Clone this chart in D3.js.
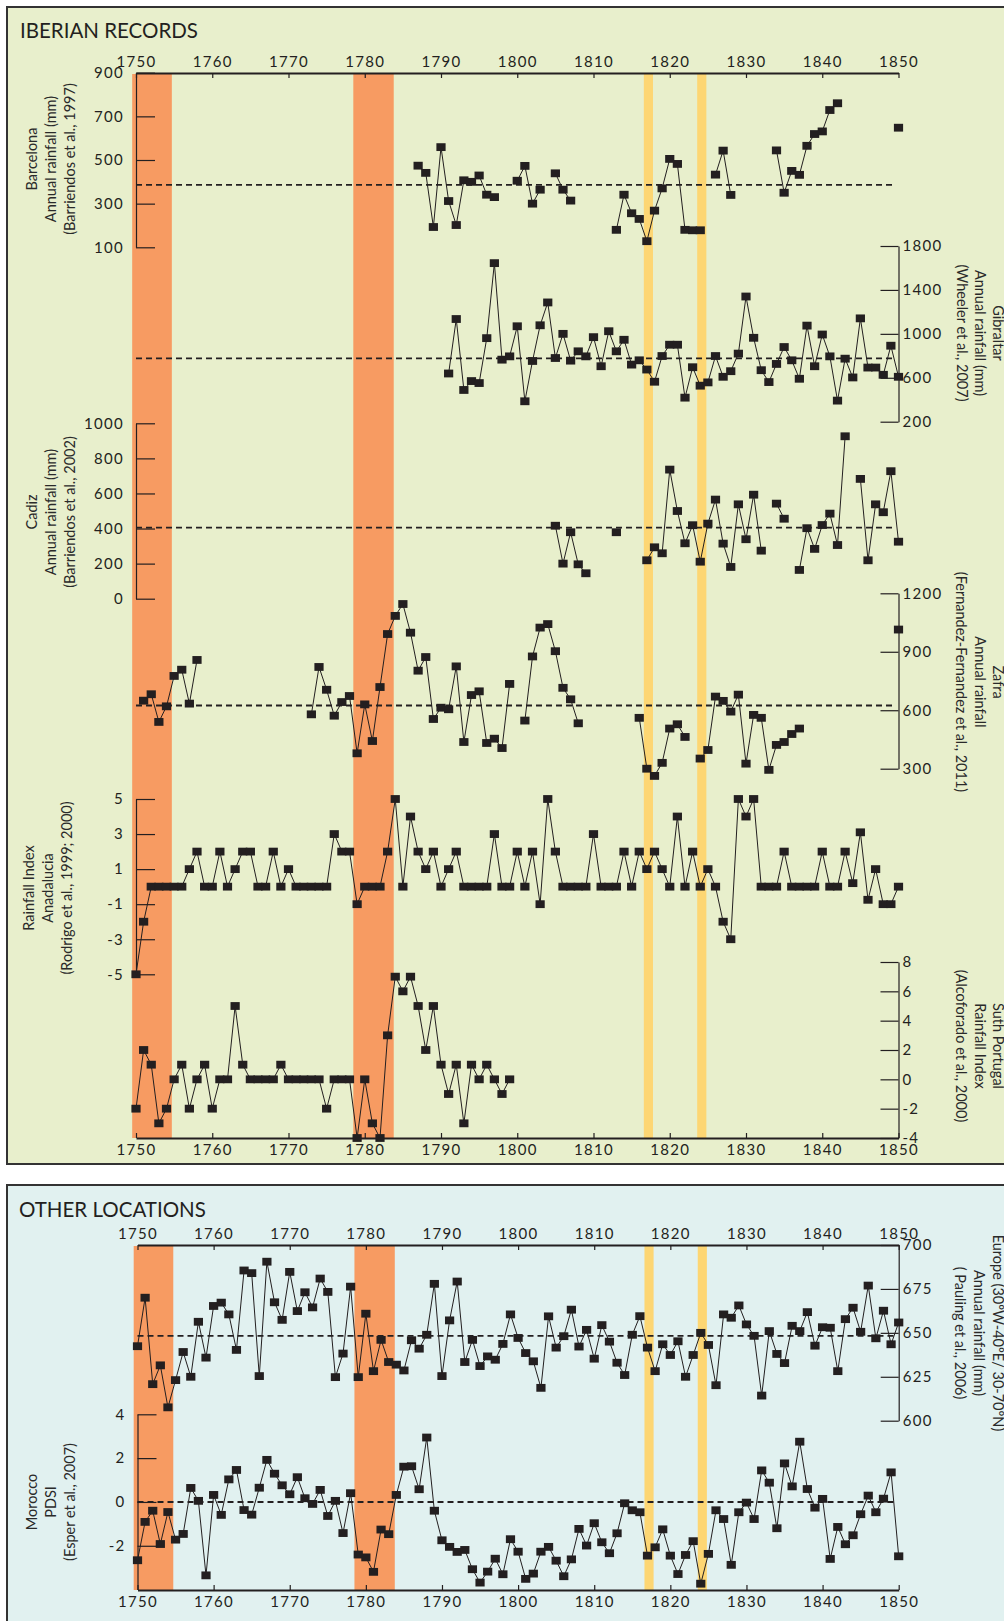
<!DOCTYPE html>
<meta charset="utf-8">
<style>

body {
  margin: 0;
  background: #fff;
}

svg {
  display: block;
  font-family: Lato, "Open Sans", sans-serif;
}

.axis path,
.axis line {
  fill: none;
  stroke: #231f20;
  stroke-width: 1.2px;
}

.xaxis path {
  stroke-width: 2px;
}

.axis .tick text {
  font-size: 15px;
  letter-spacing: 1.3px;
  fill: #231f20;
  font-family: Lato, "Open Sans", sans-serif;
}

.label {
  font-size: 14.5px;
  fill: #2a2a2a;
}

.title {
  font-size: 20.5px;
  fill: #231f20;
}

.series {
  fill: none;
  stroke: #231f20;
  stroke-width: 1px;
}

.mean {
  stroke: #231f20;
  stroke-width: 1.9px;
  stroke-dasharray: 6,4;
}

</style>
<body>
<script src="https://cdn.jsdelivr.net/npm/d3@7"></script>
<script>

// Series data, one value per year from the start year, null = no data
var barcelonaStart = 1787;
var barcelonaRain = [474, 441, 193, 559, 312, 202, 407, 400, 429, 341, 330, null, null,
  405, 473, 300, 364, null, 439, 364, 314, null, null, null, null, null,
  180, 341, 256, 230, 128, 268, 370, 505, 482, 180, 178, 178, null,
  433, 543, 340, null, null, null, null, null,
  544, 350, 450, 432, 565, 619, 631, 729, 760, null, null, null, null, null, null, null, 648];
var barcelonaMean = 386;

var gibraltarStart = 1791;
var gibraltarRain = [639, 1135, 489, 570, 552, 961, 1644, 765, 795,
  1069, 386, 753, 1078, 1286, 780, 1000, 756, 841, 795,
  970, 705, 1024, 841, 946, 720, 759, 675, 564, 798,
  901, 901, 419, 696, 528, 558, 798, 609, 660, 820,
  1340, 964, 669, 561, 726, 880, 759, 591, 1075, 705,
  994, 795, 392, 774, 603, 1141, 693, 693, 627, 892, 609];
var gibraltarMean = 777;

var cadizStart = 1805;
var cadizRain = [416, 200, 379, 196, 145, null, null, null, 379, null, null, null,
  219, 293, 259, 736, 500, 316, 419, 211, 428, 565, 314, 181, 538, 339, 593, 274, null,
  542, 456, null, 164, 402, 284, 420, 485, 306, 926, null,
  683, 219, 538, 493, 727, 325];
var cadizMean = 405;

var zafraStart = 1751;
var zafraRain = [649, 682, 540, 620, 776, 808, 634, 858,
  null, null, null, null, null, null, null, null, null, null, null, null, null, null,
  579, 822, 705, 572, 642, 673, 379, 630, 442, 719, 991, 1084, 1145, 998, 803, 873, 555,
  613, 605, 825, 437, 678, 697, 432, 454, 406, 735, null,
  547, 876, 1024, 1042, 903, 715, 656, 533,
  null, null, null, null, null, null, null,
  561, 300, 263, 330, 506, 528, 463, null, 352, 396, 670, 648, 593, 680,
  326, 576, 561, 294, 422, 437, 478, 506,
  null, null, null, null, null, null, null, null, null, null, null, null, 1014];
var zafraMean = 624;

var andaluciaStart = 1750;
var andaluciaIndex = [-5, -2, 0, 0, 0, 0, 0, 1, 2, 0,
  0, 2, 0, 1, 2, 2, 0, 0, 2, 0,
  1, 0, 0, 0, 0, 0, 3, 2, 2, -1,
  0, 0, 0, 2, 5, 0, 4, 2, 1, 2,
  0, 1, 2, 0, 0, 0, 0, 3, 0, 0,
  2, 0, 2, -1, 5, 2, 0, 0, 0, 0,
  3, 0, 0, 0, 2, 0, 2, 1, 2, 1,
  0, 4, 0, 2, 0, 1, 0, -2, -3, 5,
  4, 5, 0, 0, 0, 2, 0, 0, 0, 0,
  2, 0, 0, 2, 0.2, 3.1, -0.75, 1, -1, -1,
  0];

var portugalStart = 1750;
var portugalIndex = [-2, 2, 1, -3, -2, 0, 1, -2, 0, 1,
  -2, 0, 0, 5, 1, 0, 0, 0, 0, 1,
  0, 0, 0, 0, 0, -2, 0, 0, 0, -4,
  0, -3, -4, 3, 7, 6, 7, 5, 2, 5,
  1, -1, 1, -3, 1, 0, 1, 0, -1, 0];

var europeStart = 1750;
var europeRain = [642.4, 670.0, 620.8, 631.5, 607.6, 623.1, 639.1, 625.0, 656.3, 635.9,
  665.3, 667.2, 660.5, 640.3, 685.5, 684.0, 625.4, 690.5, 667.4, 657.4,
  684.7, 662.4, 673.1, 664.5, 680.9, 673.3, 624.8, 638.2, 676.3, 624.8,
  660.9, 628.2, 646.0, 633.4, 631.9, 628.6, 645.8, 641.0, 648.9, 677.9,
  625.4, 657.1, 679.2, 633.4, 646.0, 631.1, 636.6, 634.7, 643.7, 660.5,
  647.1, 638.5, 633.8, 618.7, 659.4, 641.6, 648.1, 663.2, 642.2, 651.7,
  635.3, 654.4, 645.0, 633.0, 626.0, 648.9, 659.5, 641.6, 628.2, 643.5,
  637.4, 645.2, 625.0, 637.4, 650.0, 643.1, 620.2, 660.5, 658.6, 665.6,
  654.8, 648.3, 614.3, 651.0, 638.0, 632.8, 654.0, 651.0, 661.8, 642.7,
  653.2, 652.9, 628.2, 657.8, 664.3, 650.6, 676.9, 646.9, 662.6, 643.5,
  655.9];
var europeMean = 648.3;

var moroccoStart = 1750;
var moroccoPdsi = [-2.66, -0.91, -0.40, -1.92, -0.46, -1.72, -1.46, 0.64, 0.05, -3.35,
  0.32, -0.59, 1.03, 1.46, -0.37, -0.58, 0.65, 1.92, 1.29, 0.76,
  0.35, 1.13, 0.17, -0.09, 0.55, -0.64, 0.05, -1.42, 0.40, -2.40,
  -2.53, -3.19, -1.26, -1.47, 0.32, 1.61, 1.63, 0.58, 2.94, -0.40,
  -1.75, -2.05, -2.28, -2.19, -3.07, -3.68, -3.18, -2.59, -3.30, -1.70,
  -2.27, -3.51, -3.27, -2.27, -2.05, -2.68, -3.39, -2.62, -1.23, -1.99,
  -0.97, -1.84, -2.34, -1.43, -0.06, -0.38, -0.47, -2.45, -2.07, -1.25,
  -2.45, -3.29, -2.42, -1.79, -3.73, -2.37, -0.38, -0.78, -2.87, -0.47,
  -0.03, -0.78, 1.44, 0.88, -1.20, 1.76, 0.71, 2.75, 0.59, -0.26,
  0.14, -2.60, -1.14, -1.93, -1.52, -0.56, 0.29, -0.47, 0.15, 1.35,
  -2.48];
var moroccoMean = 0;

// Highlighted periods (years)
var droughtBands = [[1749.5, 1754.7], [1778.5, 1783.8]];
var eventBands = [[1816.6, 1817.8], [1823.6, 1824.8]];

var yearTicks = d3.range(1750, 1851, 10);

var svg = d3.select("body").append("svg")
    .attr("width", 1004)
    .attr("height", 1621);

// Panels
svg.append("rect").attr("x", 7).attr("y", 7).attr("width", 1010).attr("height", 1157)
    .attr("fill", "#e8efcc").attr("stroke", "#333").attr("stroke-width", 2);
svg.append("rect").attr("x", 7).attr("y", 1185).attr("width", 1010).attr("height", 500)
    .attr("fill", "#e1f1f0").attr("stroke", "#333").attr("stroke-width", 2);

svg.append("text").attr("class", "title").attr("x", 20).attr("y", 38).text("IBERIAN RECORDS");
svg.append("text").attr("class", "title").attr("x", 19).attr("y", 1217).text("OTHER LOCATIONS");

// x scales for the two panels
var xTop = d3.scaleLinear().domain([1750, 1850]).range([136, 898.5]);
var xBot = d3.scaleLinear().domain([1750, 1850]).range([137.5, 898.7]);

var topPanel = {x: xTop, y0: 73, y1: 1138};
var botPanel = {x: xBot, y0: 1245, y1: 1590};

// y scales
var yBarcelona = d3.scaleLinear().domain([100, 900]).range([247.3, 72.7]);
var yGibraltar = d3.scaleLinear().domain([200, 1800]).range([421.7, 246]);
var yCadiz = d3.scaleLinear().domain([0, 1000]).range([598.7, 423.3]);
var yZafra = d3.scaleLinear().domain([300, 1200]).range([768.7, 593.3]);
var yAndalucia = d3.scaleLinear().domain([-5, 5]).range([974.3, 799]);
var yPortugal = d3.scaleLinear().domain([-4, 8]).range([1138, 962]);
var yEurope = d3.scaleLinear().domain([600, 700]).range([1420.7, 1245]);
var yMorocco = d3.scaleLinear().domain([-4, 4]).range([1589.6, 1414.3]);

// Bands
function drawBands(p) {
  svg.selectAll(null).data(droughtBands).enter().append("rect")
      .attr("x", function(d) { return p.x(d[0]); })
      .attr("width", function(d) { return p.x(d[1]) - p.x(d[0]); })
      .attr("y", p.y0 + 1).attr("height", p.y1 - p.y0 - 1)
      .attr("fill", "#f79b62");
  svg.selectAll(null).data(eventBands).enter().append("rect")
      .attr("x", function(d) { return p.x(d[0]); })
      .attr("width", function(d) { return p.x(d[1]) - p.x(d[0]); })
      .attr("y", p.y0 + 1).attr("height", p.y1 - p.y0 - 1)
      .attr("fill", "#fdd673");
}
drawBands(topPanel);
drawBands(botPanel);

function drawMean(x, y, value) {
  svg.append("line").attr("class", "mean")
      .attr("x1", x(1750)).attr("x2", x(1849.6))
      .attr("y1", y(value)).attr("y2", y(value));
}

function drawSeries(x, y, start, values) {
  var pts = values.map(function(v, i) { return {year: start + i, value: v}; });
  var line = d3.line()
      .defined(function(d) { return d.value != null; })
      .x(function(d) { return x(d.year); })
      .y(function(d) { return y(d.value); });
  svg.append("path").attr("class", "series").attr("d", line(pts));
  svg.selectAll(null).data(pts.filter(function(d) { return d.value != null; }))
    .enter().append("rect")
      .attr("x", function(d) { return x(d.year) - 4.6; })
      .attr("y", function(d) { return y(d.value) - 3.9; })
      .attr("width", 9.2)
      .attr("height", 7.8)
      .attr("fill", "#231f20");
}

drawMean(xTop, yBarcelona, barcelonaMean);
drawMean(xTop, yGibraltar, gibraltarMean);
drawMean(xTop, yCadiz, cadizMean);
drawMean(xTop, yZafra, zafraMean);
drawMean(xBot, yEurope, europeMean);
drawMean(xBot, yMorocco, moroccoMean);

drawSeries(xTop, yBarcelona, barcelonaStart, barcelonaRain);
drawSeries(xTop, yGibraltar, gibraltarStart, gibraltarRain);
drawSeries(xTop, yCadiz, cadizStart, cadizRain);
drawSeries(xTop, yZafra, zafraStart, zafraRain);
drawSeries(xTop, yAndalucia, andaluciaStart, andaluciaIndex);
drawSeries(xTop, yPortugal, portugalStart, portugalIndex);
drawSeries(xBot, yEurope, europeStart, europeRain);
drawSeries(xBot, yMorocco, moroccoStart, moroccoPdsi);

// x axes
function drawXAxes(p) {
  svg.append("g")
      .attr("class", "axis xaxis")
      .attr("transform", "translate(0," + p.y0 + ")")
      .call(d3.axisTop(p.x).tickValues(yearTicks).tickFormat(d3.format("d"))
        .tickSizeInner(-5).tickSizeOuter(0).tickPadding(6));
  svg.append("g")
      .attr("class", "axis xaxis")
      .attr("transform", "translate(0," + p.y1 + ")")
      .call(d3.axisBottom(p.x).tickValues(yearTicks).tickFormat(d3.format("d"))
        .tickSizeInner(-5).tickSizeOuter(0).tickPadding(6));
}
drawXAxes(topPanel);
drawXAxes(botPanel);

// y axes
var fmt = function(d) { return String(d); };

function leftAxis(y, ticks, xPos) {
  svg.append("g")
      .attr("class", "axis")
      .attr("transform", "translate(" + xPos + ",0)")
      .call(d3.axisLeft(y).tickValues(ticks).tickFormat(fmt)
        .tickSizeInner(-19).tickSizeOuter(0).tickPadding(12));
}

function rightAxis(y, ticks, xPos) {
  svg.append("g")
      .attr("class", "axis")
      .attr("transform", "translate(" + xPos + ",0)")
      .call(d3.axisRight(y).tickValues(ticks).tickFormat(fmt)
        .tickSizeInner(-18).tickSizeOuter(0).tickPadding(4));
}

leftAxis(yBarcelona, [100, 300, 500, 700, 900], xTop(1750));
rightAxis(yGibraltar, [200, 600, 1000, 1400, 1800], xTop(1850));
leftAxis(yCadiz, [0, 200, 400, 600, 800, 1000], xTop(1750));
rightAxis(yZafra, [300, 600, 900, 1200], xTop(1850));
leftAxis(yAndalucia, [-5, -3, -1, 1, 3, 5], xTop(1750));
rightAxis(yPortugal, [-4, -2, 0, 2, 4, 6, 8], xTop(1850));
rightAxis(yEurope, [600, 625, 650, 675, 700], xBot(1850));
leftAxis(yMorocco, [-2, 0, 2, 4], xBot(1750));

// Rotated axis titles
function leftLabel(lines, xs, yc) {
  lines.forEach(function(t, i) {
    svg.append("text").attr("class", "label")
        .attr("transform", "translate(" + xs[i] + "," + yc + ") rotate(-90)")
        .attr("text-anchor", "middle").attr("dy", "0.35em")
        .text(t);
  });
}

function rightLabel(lines, xs, yc) {
  lines.forEach(function(t, i) {
    svg.append("text").attr("class", "label")
        .attr("transform", "translate(" + xs[i] + "," + yc + ") rotate(90)")
        .attr("text-anchor", "middle").attr("dy", "0.35em")
        .text(t);
  });
}

leftLabel(["Barcelona", "Annual rainfall (mm)", "(Barriendos et al., 1997)"], [32, 51, 70], 159);
leftLabel(["Cadiz", "Annual rainfall (mm)", "(Barriendos et al., 2002)"], [32, 51, 70], 512);
leftLabel(["Rainfall Index", "Anadalucia", "(Rodrigo et al.,  1999; 2000)"], [29, 48, 67], 888);
leftLabel(["Morocco", "PDSI", "(Esper et al., 2007)"], [32, 51, 70], 1502);

rightLabel(["Gibraltar", "Annual rainfall (mm)", "(Wheeler et al., 2007)"], [998, 980, 962], 333);
rightLabel(["Zafra", "Annual rainfall", "(Fernandez-Fernandez et al., 2011)"], [998, 980, 961], 682);
rightLabel(["Suth Portugal", "Rainfall Index", "(Alcoforado et al., 2000)"], [998, 980, 961], 1046);
rightLabel(["Europe (30\u00baW-40\u00baE/ 30-70\u00baN)", "Annual rainfall (mm)", "( Pauling et al., 2006)"], [998, 979, 960], 1333);

</script>
